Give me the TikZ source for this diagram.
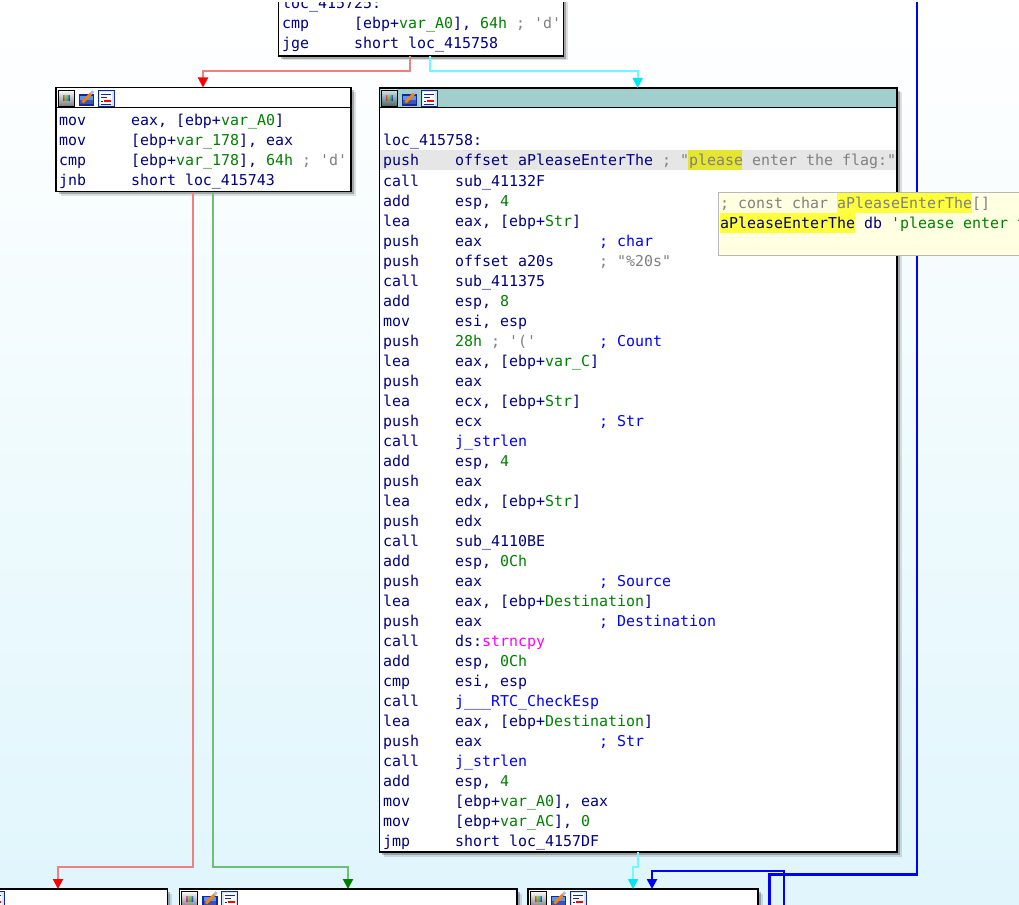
\documentclass[tikz,border=0pt]{standalone}
\usepackage{fontspec}
\setmonofont{DejaVu Sans Mono}
\usetikzlibrary{arrows.meta,shadows}
\definecolor{nv}{RGB}{0,0,128}
\definecolor{gn}{RGB}{0,128,0}
\definecolor{gy}{RGB}{128,128,128}
\definecolor{bl}{RGB}{0,0,255}
\definecolor{mg}{RGB}{255,0,255}
\definecolor{redl}{RGB}{240,128,128}
\definecolor{redt}{RGB}{255,0,0}
\definecolor{grnl}{RGB}{112,190,122}
\definecolor{grnt}{RGB}{0,128,0}
\definecolor{cyl}{RGB}{110,250,255}
\definecolor{cyt}{RGB}{0,230,245}
\definecolor{blu}{RGB}{0,0,255}
\definecolor{tealh}{RGB}{160,207,206}
\definecolor{bgc}{RGB}{224,246,252}
\definecolor{hlg}{RGB}{230,230,230}
\definecolor{hly}{RGB}{230,230,50}
\definecolor{tty}{RGB}{255,255,225}
\definecolor{tth}{RGB}{255,255,60}
\definecolor{icb}{RGB}{20,40,150}
\definecolor{icl}{RGB}{90,150,240}
\pgfdeclarehorizontalshading{rainbowsh}{16bp}{color(0bp)=(magenta); color(4bp)=(red); color(8bp)=(yellow); color(12bp)=(green); color(16bp)=(cyan); color(20bp)=(blue); color(24bp)=(blue)}
\newcommand\asmf{\ttfamily\fontsize{14.95pt}{18pt}\selectfont\frenchspacing}
\newcommand\cN[1]{\textcolor{nv}{#1}}
\newcommand\cG[1]{\textcolor{gn}{#1}}
\newcommand\cY[1]{\textcolor{gy}{#1}}
\newcommand\cB[1]{\textcolor{bl}{#1}}
\newcommand\cM[1]{\textcolor{mg}{#1}}
\newcommand\mnm[1]{\makebox[72pt][l]{\cN{#1}}}
\newcommand\opk[1]{\makebox[144pt][l]{#1}}
\newcommand\asmln[4]{\node[tx] (#1) at (#2,#3) {#4};}
\newcommand\icons[1]{%
\begin{scope}[shift={#1}]
\shade[shading=rainbowsh] (0,0) rectangle (16,16);
\shade[top color=white, bottom color=black, middle color=white!50!black, opacity=.5] (0,0) rectangle (16,16);
\draw[black, line width=.9pt] (0,0) rectangle (16,16);
\fill[icb] (20.5,4.5) rectangle (36,16);
\fill[icl] (22,6) rectangle (34.5,14.5);
\fill[icb!80] (22,10) rectangle (34.5,14.5);
\draw[line width=2.8pt, orange] (24.5,12.5) -- (33,3.5);
\draw[line width=.7pt, black!70] (24,13.5) -- (23.2,14.6);
\draw[line width=2.8pt, icl!60] (33,3.5) -- (35.2,1.2);
\fill[icl!25] (40,0) rectangle (56,16);
\fill[white] (42,2) rectangle (54,14);
\draw[icb, line width=.9pt] (40,0) rectangle (56,16);
\draw[red, line width=1.6pt] (46,11) -- (53,11);
\draw[icb, line width=.8pt] (43,4) -- (53,4) (43,7) -- (49,7) (43,11) -- (45,11) (43,14) -- (53,14);
\end{scope}}
\begin{document}
\begin{tikzpicture}[x=1pt,y=-1pt,
  blk/.style={draw=black, line width=1.1pt, fill=white, inner sep=0pt, outer sep=0pt, anchor=north west,
    drop shadow={shadow xshift=4.5pt,shadow yshift=-4.5pt,opacity=.12,fill=black},
    drop shadow={shadow xshift=2.8pt,shadow yshift=-2.8pt,opacity=.25,fill=black}},
  tx/.style={anchor=base west, inner sep=0pt, outer sep=0pt, font=\asmf},
  redE/.style={draw=redl, line width=2pt, -{Triangle[width=10pt,length=10pt,color=redt]}},
  grnE/.style={draw=grnl, line width=2pt, -{Triangle[width=10pt,length=10pt,color=grnt]}},
  cyE/.style={draw=cyl, line width=2pt, -{Triangle[width=10pt,length=10pt,color=cyt]}},
  bluE/.style={draw=blu, line width=2.4pt},
  bluA/.style={draw=blu, line width=2.4pt, -{Triangle[width=10pt,length=10pt,color=blu]}}]
\useasboundingbox (0,0) rectangle (1019,904);
\clip (0,0) rectangle (1019,904);
\fill[white] (0,0) rectangle (1019,3);
\draw[gray!25, line width=.8pt] (0,2) -- (133,2);
\draw[gray!55, line width=.8pt] (133,2) -- (1019,2);
\begin{scope}
\clip (0,3) rectangle (1019,904);
\shade[top color=white, bottom color=bgc] (0,3) rectangle (1019,904);
% blocks
\node[blk, minimum width=285pt, minimum height=76pt] (blkT) at (278.3,-20) {};
\node[blk, minimum width=295pt, minimum height=104pt] (blkL) at (56,87.5) {};
\node[blk, minimum width=517.5pt, minimum height=764pt] (blkR) at (379.5,88) {};
\node[blk, minimum width=221.5pt, minimum height=60pt] (blkA) at (-54,889) {};
\node[blk, minimum width=337.7pt, minimum height=60pt] (blkB) at (179.3,889) {};
\node[blk, minimum width=230pt, minimum height=60pt] (blkC) at (528,889) {};
% headers
\fill[tealh] ([shift={(0.55pt,-0.55pt)}]blkR.north west) rectangle ([shift={(-0.55pt,-19.5pt)}]blkR.north east);
\draw[line width=1pt] ([yshift=-19.5pt]blkR.north west) -- ([yshift=-19.5pt]blkR.north east);
\draw[line width=1pt] ([yshift=-20.5pt]blkL.north west) -- ([yshift=-20.5pt]blkL.north east);
\icons{(58,90)}
\icons{(381,90)}
\icons{(-52,891)}
\icons{(181.5,891)}
\icons{(530,891)}
% highlights
\fill[hlg] (380.1,150.5) rectangle (896.4,170.5);
\fill[hly] (688,150.5) rectangle (742,170.5);
% top block
\asmln{t0}{282}{9}{\cN{loc\_415725:}}
\asmln{t1}{282}{29}{\mnm{cmp}\cN{[ebp+}\cG{var\_A0}\cN{],} \cG{64h} \cY{; 'd'}}
\asmln{t2}{282}{49}{\mnm{jge}\cN{short loc\_415758}}
% left block
\asmln{l0}{59}{125.5}{\mnm{mov}\cN{eax, [ebp+}\cG{var\_A0}\cN{]}}
\asmln{l1}{59}{145.5}{\mnm{mov}\cN{[ebp+}\cG{var\_178}\cN{], eax}}
\asmln{l2}{59}{165.5}{\mnm{cmp}\cN{[ebp+}\cG{var\_178}\cN{],} \cG{64h} \cY{; 'd'}}
\asmln{l3}{59}{185.5}{\mnm{jnb}\cN{short loc\_415743}}
% right block
\asmln{r0}{383}{146}{\cN{loc\_415758:}}
\asmln{r1}{383}{166}{\mnm{push}\cN{offset aPleaseEnterThe} \cY{; "please enter the flag:"}}
\asmln{r2}{383}{186}{\mnm{call}\cN{sub\_41132F}}
\asmln{r3}{383}{206}{\mnm{add}\cN{esp,} \cG{4}}
\asmln{r4}{383}{226}{\mnm{lea}\cN{eax, [ebp+}\cG{Str}\cN{]}}
\asmln{r5}{383}{246}{\mnm{push}\opk{\cN{eax}}\cB{; char}}
\asmln{r6}{383}{266}{\mnm{push}\opk{\cN{offset a20s}}\cY{; "\%20s"}}
\asmln{r7}{383}{286}{\mnm{call}\cN{sub\_411375}}
\asmln{r8}{383}{306}{\mnm{add}\cN{esp,} \cG{8}}
\asmln{r9}{383}{326}{\mnm{mov}\cN{esi, esp}}
\asmln{r10}{383}{346}{\mnm{push}\opk{\cG{28h} \cY{; '('}}\cB{; Count}}
\asmln{r11}{383}{366}{\mnm{lea}\cN{eax, [ebp+}\cG{var\_C}\cN{]}}
\asmln{r12}{383}{386}{\mnm{push}\cN{eax}}
\asmln{r13}{383}{406}{\mnm{lea}\cN{ecx, [ebp+}\cG{Str}\cN{]}}
\asmln{r14}{383}{426}{\mnm{push}\opk{\cN{ecx}}\cB{; Str}}
\asmln{r15}{383}{446}{\mnm{call}\cB{j\_strlen}}
\asmln{r16}{383}{466}{\mnm{add}\cN{esp,} \cG{4}}
\asmln{r17}{383}{486}{\mnm{push}\cN{eax}}
\asmln{r18}{383}{506}{\mnm{lea}\cN{edx, [ebp+}\cG{Str}\cN{]}}
\asmln{r19}{383}{526}{\mnm{push}\cN{edx}}
\asmln{r20}{383}{546}{\mnm{call}\cN{sub\_4110BE}}
\asmln{r21}{383}{566}{\mnm{add}\cN{esp,} \cG{0Ch}}
\asmln{r22}{383}{586}{\mnm{push}\opk{\cN{eax}}\cB{; Source}}
\asmln{r23}{383}{606}{\mnm{lea}\cN{eax, [ebp+}\cG{Destination}\cN{]}}
\asmln{r24}{383}{626}{\mnm{push}\opk{\cN{eax}}\cB{; Destination}}
\asmln{r25}{383}{646}{\mnm{call}\cN{ds:}\cM{strncpy}}
\asmln{r26}{383}{666}{\mnm{add}\cN{esp,} \cG{0Ch}}
\asmln{r27}{383}{686}{\mnm{cmp}\cN{esi, esp}}
\asmln{r28}{383}{706}{\mnm{call}\cB{j\_\_\_RTC\_CheckEsp}}
\asmln{r29}{383}{726}{\mnm{lea}\cN{eax, [ebp+}\cG{Destination}\cN{]}}
\asmln{r30}{383}{746}{\mnm{push}\opk{\cN{eax}}\cB{; Str}}
\asmln{r31}{383}{766}{\mnm{call}\cB{j\_strlen}}
\asmln{r32}{383}{786}{\mnm{add}\cN{esp,} \cG{4}}
\asmln{r33}{383}{806}{\mnm{mov}\cN{[ebp+}\cG{var\_A0}\cN{], eax}}
\asmln{r34}{383}{826}{\mnm{mov}\cN{[ebp+}\cG{var\_AC}\cN{],} \cG{0}}
\asmln{r35}{383}{846}{\mnm{jmp}\cN{short loc\_4157DF}}
% edges
\draw[redE] ([xshift=131.7pt]blkT.south west) -- ++(0,15.5) -| ([xshift=147pt]blkL.north west);
\draw[cyE] ([xshift=151.7pt]blkT.south west) -- ++(0,15.5) -| ([xshift=258.2pt]blkR.north west);
\draw[redE] ([xshift=136.7pt]blkL.south west) -- ++(0,675.5) -| ([xshift=-109.5pt]blkA.north east);
\draw[grnE] ([xshift=156.7pt]blkL.south west) -- ++(0,675.5) -| ([xshift=168.7pt]blkB.north west);
\draw[cyE] ([xshift=258.5pt]blkR.south west) -- ++(0,14.5) -| ([xshift=105pt]blkC.north west);
\coordinate (bTop) at (917,-5);
\coordinate (bBot1) at (769.3,910);
\coordinate (bBot2) at (784,910);
\draw[bluE] (bTop) -- ++(0,879.5) -| (bBot1);
\draw[bluA] (bBot2) -- ++(0,-39) -| ([xshift=124pt]blkC.north west);
% tooltip
\node[draw=gray!55, fill=tty, line width=.8pt, anchor=north west, minimum width=330pt, minimum height=63pt, inner sep=0pt, outer sep=0pt] (tip) at (718,192) {};
\fill[tth] (837,193) rectangle (972,212.5);
\fill[tth] (719.5,213) rectangle (855,233);
\asmln{tt1}{720}{208}{\cY{; const char aPleaseEnterThe[]}}
\asmln{tt2}{720}{228}{\cN{aPleaseEnterThe db} \cG{'please enter t}}
\end{scope}
\end{tikzpicture}
\end{document}
